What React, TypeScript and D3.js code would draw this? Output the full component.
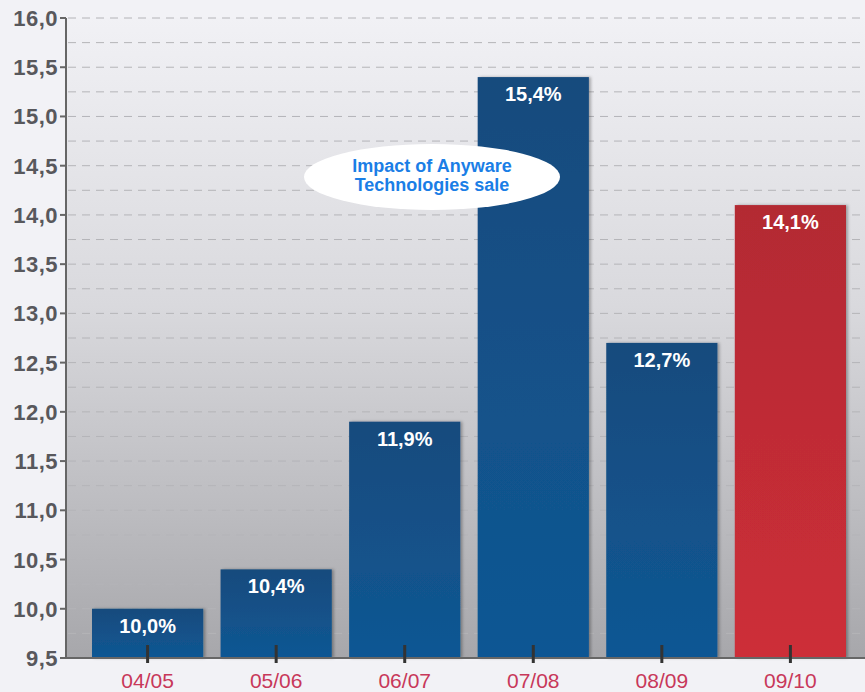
import React from "react";
import * as d3 from "d3";

const categories = ["04/05", "05/06", "06/07", "07/08", "08/09", "09/10"];
const values = [10.0, 10.4, 11.9, 15.4, 12.7, 14.1];
const labels = ["10,0%", "10,4%", "11,9%", "15,4%", "12,7%", "14,1%"];
const highlight = [false, false, false, false, false, true];
const yTicks = [9.5, 10, 10.5, 11, 11.5, 12, 12.5, 13, 13.5, 14, 14.5, 15, 15.5, 16];
const gridValues = d3.range(9.75, 16.01, 0.25);
const noteLines = ["Impact of Anyware", "Technologies sale"];

const W = 865;
const H = 692;
const axisX = 66;
const top = 18;
const bottom = 658;

export default function App() {
  const y = d3.scaleLinear().domain([9.5, 16]).range([bottom, top]);
  const x = d3.scaleBand<string>().domain(categories).range([83, 855]).paddingInner(0.135).paddingOuter(0.07);
  const fmt = (v: number) => v.toFixed(1).replace(".", ",");
  const font = "Liberation Sans, Arial, sans-serif";
  return (
    <svg width={W} height={H} style={{ position: "absolute", left: 0, top: 0, background: "#f2f2f6" }}>
      <defs>
        <linearGradient id="bg" x1="0" y1="0" x2="0" y2="1">
          <stop offset="0" stopColor="#f1f1f5" />
          <stop offset="0.45" stopColor="#d9d9dd" />
          <stop offset="1" stopColor="#a7a7ab" />
        </linearGradient>
        <linearGradient id="blue" x1="0" y1="0" x2="0" y2="1">
          <stop offset="0" stopColor="#174b7d" />
          <stop offset="1" stopColor="#0f5794" />
        </linearGradient>
        <linearGradient id="red" x1="0" y1="0" x2="0" y2="1">
          <stop offset="0" stopColor="#b32a33" />
          <stop offset="1" stopColor="#cd2e38" />
        </linearGradient>
        <filter id="sh" x="-10%" y="-10%" width="130%" height="130%">
          <feDropShadow dx="2" dy="0" stdDeviation="1.5" floodColor="#000" floodOpacity="0.3" />
        </filter>
      </defs>
      <rect x={axisX} y={top} width={W - axisX} height={bottom - top} fill="url(#bg)" />
      {gridValues.map((g, i) => (
        <line key={"g" + i} x1={axisX + 2} x2={W} y1={y(g)} y2={y(g)} stroke="#b4b4b8" strokeWidth={1} strokeDasharray="8,6" />
      ))}
      {values.map((v, i) => (
        <g key={"b" + i}>
          <rect
            x={x(categories[i])!}
            y={y(v)}
            width={x.bandwidth()}
            height={bottom - y(v)}
            fill={highlight[i] ? "url(#red)" : "url(#blue)"}
            filter="url(#sh)"
          />
          <text
            x={x(categories[i])! + x.bandwidth() / 2}
            y={y(v) + 24}
            textAnchor="middle"
            fill="#ffffff"
            fontFamily={font}
            fontWeight="bold"
            fontSize={20}
          >
            {labels[i]}
          </text>
        </g>
      ))}
      <ellipse cx={432} cy={177} rx={128} ry={33} fill="#ffffff" />
      {noteLines.map((t, i) => (
        <text key={"n" + i} x={432} y={172 + i * 18.5} textAnchor="middle" fill="#1a7ee6" fontFamily={font} fontWeight="bold" fontSize={18}>
          {t}
        </text>
      ))}
      <line x1={axisX} x2={W} y1={bottom} y2={bottom} stroke="#666" strokeWidth={2} />
      <line x1={axisX} x2={axisX} y1={top} y2={bottom} stroke="#666" strokeWidth={2} />
      {yTicks.map((t, i) => (
        <g key={"t" + i}>
          <line x1={axisX - 6} x2={axisX} y1={y(t)} y2={y(t)} stroke="#666" strokeWidth={2} />
          <text x={58} y={y(t) + 8} textAnchor="end" fill="#58585c" fontFamily={font} fontWeight="bold" fontSize={22} letterSpacing={0.5}>
            {fmt(t)}
          </text>
        </g>
      ))}
      {categories.map((c, i) => {
        const cx = x(c)! + x.bandwidth() / 2;
        return (
          <g key={"c" + i}>
            <line x1={cx} x2={cx} y1={bottom - 13} y2={bottom + 5} stroke="#333" strokeWidth={3} />
            <text x={cx} y={688} textAnchor="middle" fill="#c8385a" fontFamily={font} fontSize={21}>
              {c}
            </text>
          </g>
        );
      })}
    </svg>
  );
}
